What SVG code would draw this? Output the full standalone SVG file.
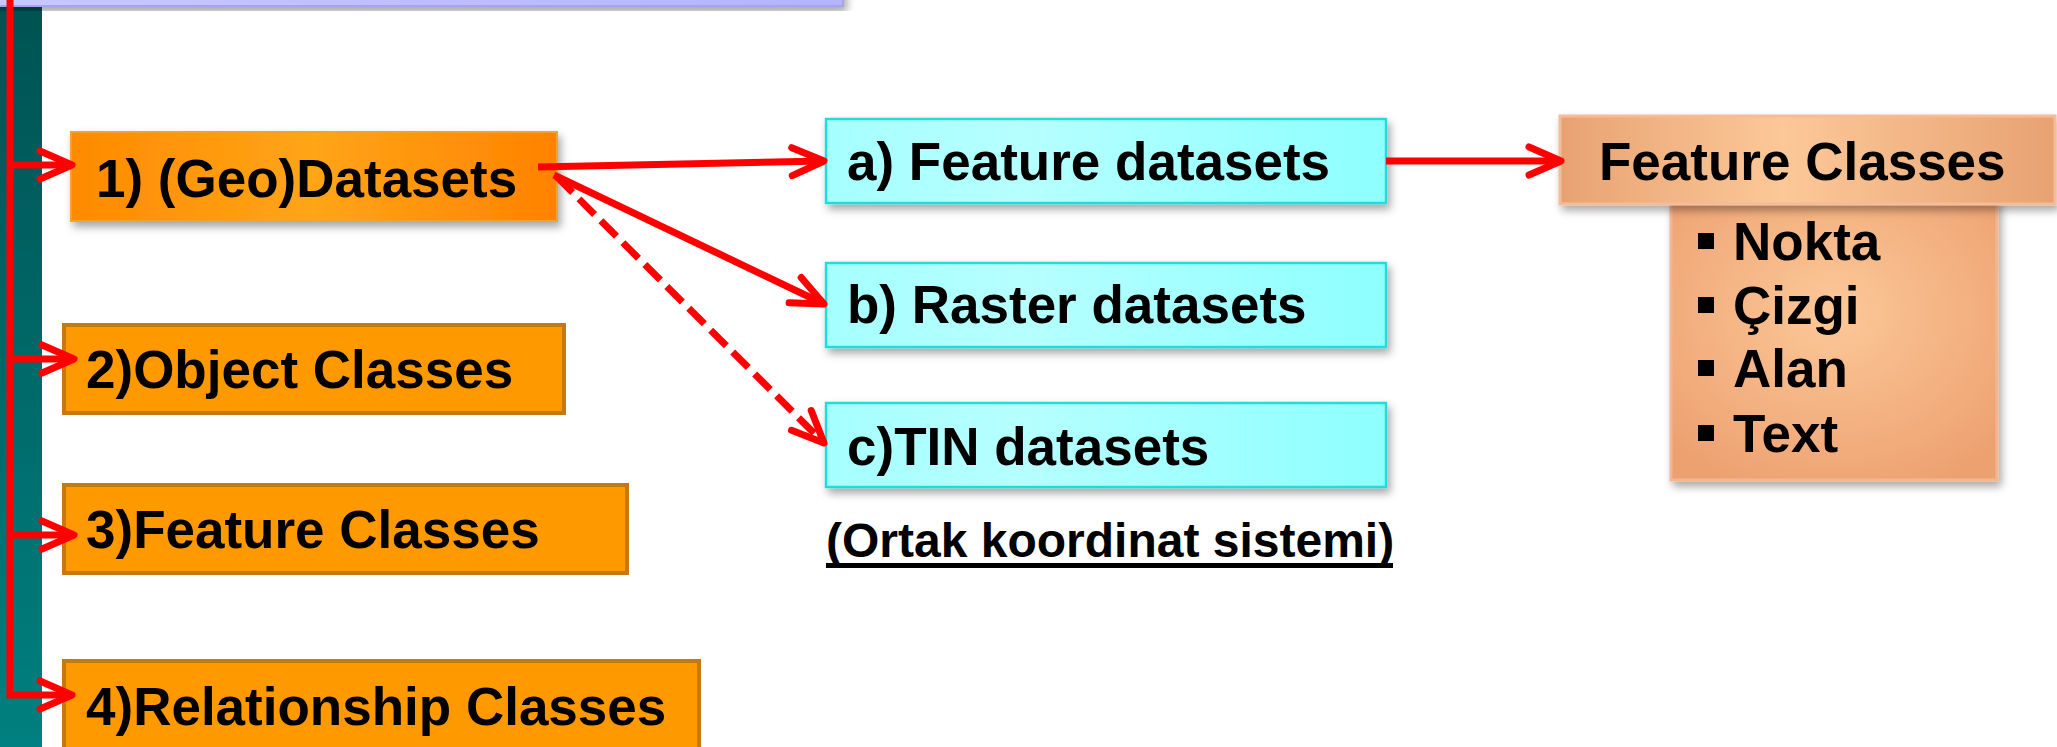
<svg xmlns="http://www.w3.org/2000/svg" width="2057" height="747" viewBox="0 0 2057 747">
<style>
.t{font-family:"Liberation Sans",Arial,sans-serif;font-weight:bold;font-size:53px;fill:#000}
.s{font-family:"Liberation Sans",Arial,sans-serif;font-weight:bold;font-size:48px;fill:#000}
.ln{fill:none;stroke:#ff0000;stroke-width:7}
.ob{fill:#ff9900;stroke:#c47a10;stroke-width:4}
.cy{fill:url(#cyanG);stroke:#22dcdc;stroke-width:2.5}
</style>
<defs>
<linearGradient id="tealG" x1="0" y1="0" x2="0" y2="1">
<stop offset="0" stop-color="#005252"/><stop offset="1" stop-color="#008080"/>
</linearGradient>
<linearGradient id="orG" x1="0" y1="0" x2="1" y2="0">
<stop offset="0" stop-color="#ff8a00"/><stop offset="0.5" stop-color="#ffa518"/><stop offset="1" stop-color="#ff8200"/>
</linearGradient>
<linearGradient id="cyanG" x1="0" y1="0" x2="1" y2="0">
<stop offset="0" stop-color="#a6ffff"/><stop offset="0.35" stop-color="#b6ffff"/><stop offset="1" stop-color="#8effff"/>
</linearGradient>
<linearGradient id="peachG" x1="0" y1="0" x2="1" y2="0">
<stop offset="0" stop-color="#e8a272"/><stop offset="0.45" stop-color="#fcc898"/><stop offset="1" stop-color="#e8a272"/>
</linearGradient>
<radialGradient id="peachR" cx="0.5" cy="0.4" r="0.7">
<stop offset="0" stop-color="#fcc898"/><stop offset="1" stop-color="#eda070"/>
</radialGradient>
<linearGradient id="lavG" x1="0" y1="0" x2="1" y2="0">
<stop offset="0" stop-color="#c8c8ff"/><stop offset="1" stop-color="#b4b4ff"/>
</linearGradient>
<filter id="sh" x="-10%" y="-20%" width="130%" height="150%">
<feDropShadow dx="3" dy="5" stdDeviation="4" flood-color="#000" flood-opacity="0.35"/>
</filter>
<marker id="ah" markerUnits="userSpaceOnUse" markerWidth="50" markerHeight="40" viewBox="-40 -20 50 40" refX="0" refY="0" orient="auto" overflow="visible">
<path d="M-32,-14 L0,0 L-32,14" fill="none" stroke="#ff0000" stroke-width="7" stroke-linecap="round" stroke-linejoin="round"/>
</marker>
</defs>

<g id="sidebar">
<rect x="0" y="4" width="42" height="743" fill="url(#tealG)"/>
</g>
<g id="topbar">
<rect x="-4" y="-10" width="847" height="16" fill="url(#lavG)" stroke="#a4a4f0" stroke-width="2" filter="url(#sh)"/>
</g>

<g id="node-geodatasets">
<rect x="71" y="132" width="486" height="89" fill="url(#orG)" stroke="#f2a232" stroke-width="2" filter="url(#sh)"/>
<text class="t" x="96" y="197">1) (Geo)Datasets</text>
</g>
<g id="node-object">
<rect class="ob" x="64" y="325" width="500" height="88"/>
<text class="t" x="86" y="388">2)Object Classes</text>
</g>
<g id="node-feature">
<rect class="ob" x="64" y="485" width="563" height="88"/>
<text class="t" x="86" y="548">3)Feature Classes</text>
</g>
<g id="node-relationship">
<rect class="ob" x="64" y="661" width="635" height="92"/>
<text class="t" x="86" y="725">4)Relationship Classes</text>
</g>

<g id="node-a">
<rect class="cy" x="826" y="119" width="560" height="84" filter="url(#sh)"/>
<text class="t" x="847" y="180">a) Feature datasets</text>
</g>
<g id="node-b">
<rect class="cy" x="826" y="263" width="560" height="84" filter="url(#sh)"/>
<text class="t" x="847" y="323">b) Raster datasets</text>
</g>
<g id="node-c">
<rect class="cy" x="826" y="403" width="560" height="84" filter="url(#sh)"/>
<text class="t" x="847" y="465">c)TIN datasets</text>
</g>
<g id="note">
<text class="s" x="826" y="557">(Ortak koordinat sistemi)</text>
<rect x="826" y="563" width="567" height="5" fill="#000"/>
</g>

<g id="node-fc-list">
<rect x="1671" y="200" width="326" height="280" fill="url(#peachR)" stroke="#f2b690" stroke-width="3" filter="url(#sh)"/>
<rect x="1698" y="233" width="16" height="16" fill="#000"/>
<text class="t" x="1733" y="260">Nokta</text>
<rect x="1698" y="297" width="16" height="16" fill="#000"/>
<text class="t" x="1733" y="324">Çizgi</text>
<rect x="1698" y="360" width="16" height="16" fill="#000"/>
<text class="t" x="1733" y="387">Alan</text>
<rect x="1698" y="425" width="16" height="16" fill="#000"/>
<text class="t" x="1733" y="452">Text</text>
</g>
<g id="node-fc">
<rect x="1560" y="116" width="495" height="88" fill="url(#peachG)" stroke="#f4bc98" stroke-width="3" filter="url(#sh)"/>
<text class="t" x="1599" y="180">Feature Classes</text>
</g>

<g id="connectors">
<path class="ln" d="M10,0 V695 H72" marker-end="url(#ah)"/>
<path class="ln" d="M10,165 H72" marker-end="url(#ah)"/>
<path class="ln" d="M10,359 H74" marker-end="url(#ah)"/>
<path class="ln" d="M10,535 H74" marker-end="url(#ah)"/>
<path class="ln" d="M538,167 L824,161" marker-end="url(#ah)"/>
<path class="ln" d="M554,175 L824,304" marker-end="url(#ah)"/>
<path class="ln" d="M557,177 L824,443" stroke-dasharray="22 9" marker-end="url(#ah)"/>
<path class="ln" d="M1386,161 L1561,161" marker-end="url(#ah)"/>
</g>
</svg>
